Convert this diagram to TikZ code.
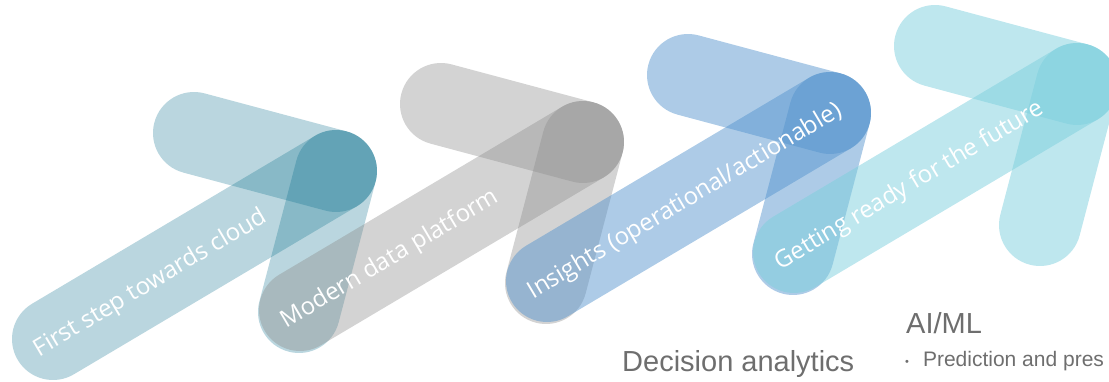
\documentclass[tikz,border=0pt]{standalone}
\usepackage{fontspec}
\setmainfont{Open Sans}
\newfontfamily\captionfont{Liberation Sans}
\usetikzlibrary{calc}
\definecolor{stepteal}{RGB}{0,105,135}
\definecolor{stepgray}{RGB}{139,139,139}
\definecolor{stepblue}{RGB}{84,147,205}
\definecolor{stepcyan}{RGB}{125,207,221}
\definecolor{captiongray}{RGB}{110,110,110}
\tikzset{
  band/.style={line width=82pt, line cap=round},
  bandlabel/.style={text=white, font=\fontsize{24}{28}\selectfont, inner sep=0pt, anchor=base west, rotate=30.7},
  caption/.style={text=captiongray, inner sep=0pt, anchor=base west},
}
\begin{document}
\begin{tikzpicture}[x=1pt, y=-1pt]
    \useasboundingbox (0,0) rectangle (1109,382);
    \clip (0,0) rectangle (1109,382);
    % four stepping arrows, each one shifted up and right
    \foreach \i/\col/\op/\txt in {0/stepteal/0.27/First step towards cloud,
                                  1/stepgray/0.38/Modern data platform,
                                  2/stepblue/0.48/{Insights (operational/actionable)},
                                  3/stepcyan/0.5/Getting ready for the future}{
        \coordinate (c\i) at (336+247*\i, 171-29*\i);
        \coordinate (b\i) at ($(c\i)+(-283,168)$);
        \coordinate (u\i) at ($(c\i)+(-142,-38)$);
        \coordinate (d\i) at ($(c\i)+(-37,141)$);
        \draw[band, draw=\col, draw opacity=\op] (u\i) -- (c\i);
        \draw[band, draw=\col, draw opacity=\op] (b\i) -- (c\i);
        \draw[band, draw=\col, draw opacity=\op] (c\i) -- (d\i);
        \node[bandlabel] (label\i) at ($(b\i)!-16pt!(c\i)+(0,10)$) {\txt};
    }
    \node[caption, font=\captionfont\fontsize{29}{34}\selectfont] (decision) at (622,371) {Decision analytics};
    \node[caption, font=\captionfont\fontsize{29}{34}\selectfont] (aiml) at (906,333) {AI/ML};
    \node[caption, font=\captionfont\fontsize{21}{25}\selectfont] (predict) at (905,366)
        {\raisebox{1pt}{\fontsize{11}{11}\selectfont\textbullet}\hspace{14pt}Prediction and pres};
\end{tikzpicture}
\end{document}
